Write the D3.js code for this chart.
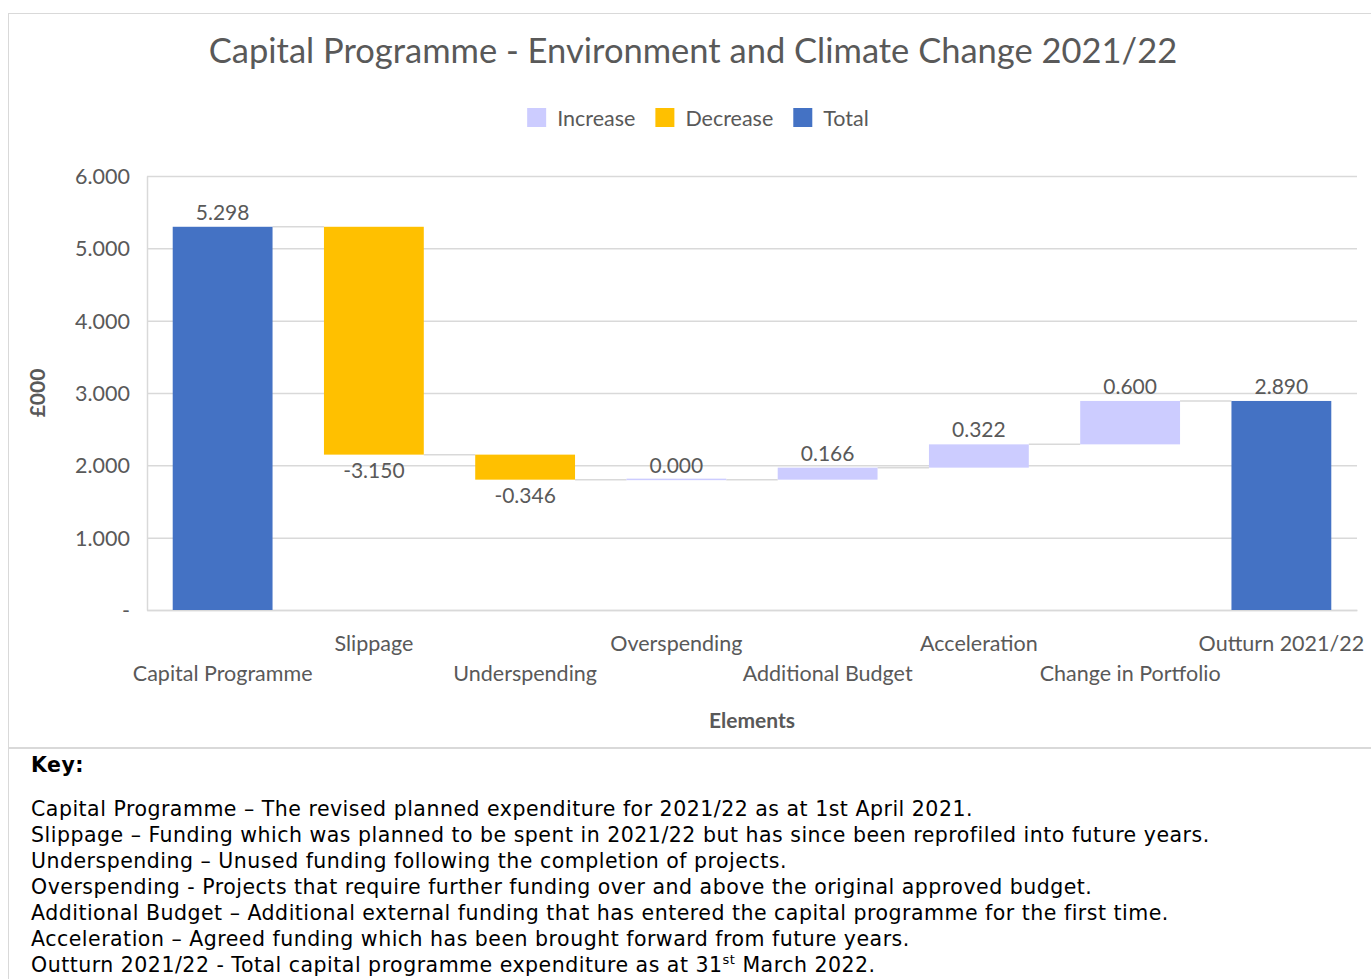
<!DOCTYPE html>
<html>
<head>
<meta charset="utf-8">
<script src="https://cdn.jsdelivr.net/npm/d3@7"></script>
<style>
  body { margin: 0; background: #fff; }
  svg text { font-family: Lato, sans-serif; fill: #595959; }
  .key text { font-family: "DejaVu Sans", Verdana, sans-serif; fill: #000; letter-spacing: 0.5px; }
</style>
</head>
<body>
<script>
// chart values
const categories = ['Capital Programme', 'Slippage', 'Underspending', 'Overspending',
    'Additional Budget', 'Acceleration', 'Change in Portfolio', 'Outturn 2021/22']
const values = [5.298, -3.150, -0.346, 0.000, 0.166, 0.322, 0.600, 2.890]
const kinds = ['Total', 'Decrease', 'Decrease', 'Increase', 'Increase', 'Increase', 'Increase', 'Total']
const legendNames = ['Increase', 'Decrease', 'Total']
const yTicks = [0, 1, 2, 3, 4, 5, 6]
const keyLines = [
    'Capital Programme \u2013 The revised planned expenditure for 2021/22 as at 1st April 2021.',
    'Slippage \u2013 Funding which was planned to be spent in 2021/22 but has since been reprofiled into future years.',
    'Underspending \u2013 Unused funding following the completion of projects.',
    'Overspending - Projects that require further funding over and above the original approved budget.',
    'Additional Budget \u2013 Additional external funding that has entered the capital programme for the first time.',
    'Acceleration \u2013 Agreed funding which has been brought forward from future years.',
    'Outturn 2021/22 - Total capital programme expenditure as at 31|st| March 2022.'
]

const colors = { Increase: '#ccccff', Decrease: '#ffc000', Total: '#4472c4' }

const width = 1371
const height = 979

// plain hyphen for negatives, like the original
const fmt = d3.formatLocale({ decimal: '.', thousands: ',', grouping: [3], currency: ['£', ''], minus: '-' }).format('.3f')

const svg = d3.select('body')
    .append('svg')
    .attr('width', width)
    .attr('height', height)

// frame lines
svg.append('line').attr('x1', 8).attr('x2', width).attr('y1', 13.5).attr('y2', 13.5).attr('stroke', '#d9d9d9')
svg.append('line').attr('x1', 8.5).attr('x2', 8.5).attr('y1', 13).attr('y2', height).attr('stroke', '#d9d9d9')
svg.append('line').attr('x1', 8).attr('x2', width).attr('y1', 748).attr('y2', 748).attr('stroke', '#d9d9d9').attr('stroke-width', 2)

// title
svg.append('text')
    .attr('x', 693).attr('y', 63)
    .attr('text-anchor', 'middle')
    .style('font-size', '34.5px')
    .text('Capital Programme - Environment and Climate Change 2021/22')

// waterfall extents
let running = 0
const bars = values.map((v, i) => {
    let start, end
    if (kinds[i] === 'Total') { start = 0; end = v; running = v }
    else { start = running; end = running + v; running = end }
    return { cat: categories[i], value: v, kind: kinds[i], start: start, end: end }
})

const xScale = d3.scaleBand()
    .domain(categories)
    .range([147, 1357])
    .paddingInner(0.34)
    .paddingOuter(0.17)
const yScale = d3.scaleLinear()
    .domain([0, 6])
    .range([610, 176])

// gridlines
svg.append('g')
    .attr('transform', 'translate(147,0)')
    .call(d3.axisLeft(yScale).tickValues(yTicks).tickSize(-(1357 - 147)).tickFormat(''))
    .call(g => g.select('.domain').remove())
    .call(g => g.selectAll('line').attr('stroke', '#d9d9d9').attr('stroke-width', 1.5))

// y axis
svg.append('g')
    .attr('transform', 'translate(147,0)')
    .call(d3.axisLeft(yScale).tickValues(yTicks).tickSize(0).tickPadding(17)
        .tickFormat(d => d === 0 ? '-' : fmt(d)))
    .call(g => g.select('.domain').attr('stroke', '#d9d9d9').attr('stroke-width', 1.5))
    .call(g => g.selectAll('text').style('font-size', '21.5px').attr('dy', '0.35em'))

svg.append('text')
    .attr('transform', 'translate(45,393) rotate(-90)')
    .attr('text-anchor', 'middle')
    .style('font-size', '21px').style('font-weight', 'bold')
    .text('£000')

// x axis
svg.append('g')
    .attr('transform', 'translate(0,610)')
    .call(d3.axisBottom(xScale).tickSize(0))
    .call(g => g.select('.domain').attr('stroke', '#d9d9d9').attr('stroke-width', 1.5))
    .call(g => g.selectAll('text')
        .style('font-size', '21.5px')
        .attr('dy', 0)
        .attr('y', (d, i) => i % 2 === 0 ? 71 : 41))

svg.append('text')
    .attr('x', 752).attr('y', 728)
    .attr('text-anchor', 'middle')
    .style('font-size', '21px').style('font-weight', 'bold')
    .text('Elements')

// connectors
svg.selectAll('.connector')
    .data(bars.slice(0, -1))
    .enter().append('line')
    .attr('class', 'connector')
    .attr('x1', d => xScale(d.cat) + xScale.bandwidth())
    .attr('x2', (d, i) => xScale(categories[i + 1]))
    .attr('y1', d => yScale(d.end))
    .attr('y2', d => yScale(d.end))
    .attr('stroke', '#d9d9d9')
    .attr('stroke-width', 1.5)

// bars
svg.selectAll('.bar')
    .data(bars)
    .enter().append('rect')
    .attr('class', 'bar')
    .attr('x', d => xScale(d.cat))
    .attr('width', xScale.bandwidth())
    .attr('y', d => yScale(Math.max(d.start, d.end)) - (d.start === d.end ? 1 : 0))
    .attr('height', d => Math.max(1.5, Math.abs(yScale(d.start) - yScale(d.end))))
    .attr('fill', d => colors[d.kind])

// value labels
svg.selectAll('.vlabel')
    .data(bars)
    .enter().append('text')
    .attr('class', 'vlabel')
    .attr('x', d => xScale(d.cat) + xScale.bandwidth() / 2)
    .attr('y', d => d.value < 0 ? yScale(d.end) + 23 : yScale(Math.max(d.start, d.end)) - 7)
    .attr('text-anchor', 'middle')
    .style('font-size', '21px')
    .text(d => fmt(d.value))

// legend
const legend = svg.append('g')
let lx = 0
legendNames.forEach(name => {
    const item = legend.append('g').attr('transform', 'translate(' + lx + ',0)')
    item.append('rect').attr('x', 0).attr('y', -10).attr('width', 19).attr('height', 19).attr('fill', colors[name])
    const t = item.append('text').attr('x', 30).attr('y', 8).style('font-size', '21.5px').text(name)
    lx += 30 + t.node().getComputedTextLength() + 20
})
legend.attr('transform', 'translate(' + (698 - (lx - 20) / 2) + ',118)')

// key
const key = svg.append('g').attr('class', 'key')
key.append('text')
    .attr('x', 31).attr('y', 772)
    .style('font-size', '20.5px').style('font-weight', 'bold')
    .text('Key:')
keyLines.forEach((line, i) => {
    const t = key.append('text')
        .attr('x', 31).attr('y', 816 + i * 26)
        .style('font-size', '20.5px')
    line.split('|').forEach((part, j) => {
        const span = t.append('tspan').text(part)
        if (j === 1) span.attr('dy', -8).style('font-size', '13px')
        if (j === 2) span.attr('dy', 8)
    })
})
</script>
</body>
</html>
